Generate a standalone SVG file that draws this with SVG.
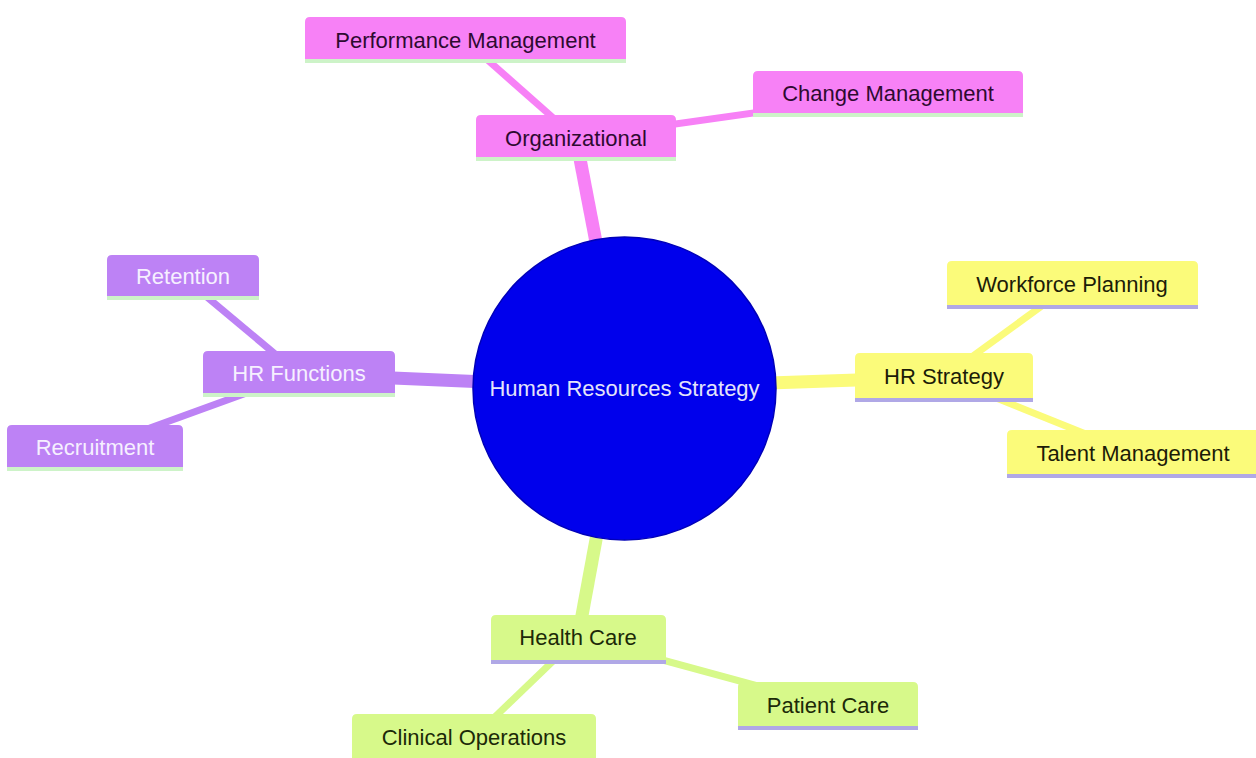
<svg xmlns="http://www.w3.org/2000/svg" width="1256" height="758" viewBox="0 0 1256 758">
<style>
text{font-family:"Liberation Sans",Arial,sans-serif;font-size:22px;text-anchor:middle;dominant-baseline:central}
.e0{stroke-linecap:butt;fill:none;stroke-width:13}
.e1{stroke-linecap:butt;fill:none;stroke-width:7}
.pk{fill:#f781f6}.pkE{stroke:#f781f6}.pkT{fill:#2e0a30}
.pu{fill:#bd82f5}.puE{stroke:#bd82f5}.puT{fill:#f6f0ff}
.ye{fill:#fbfb7a}.yeE{stroke:#fbfb7a}.yeT{fill:#1c1c08}
.gr{fill:#d7f98a}.grE{stroke:#d7f98a}.grT{fill:#1c2a08}
.lg{stroke:#cdf3c8;stroke-width:4}
.lv{stroke:#b0a8e6;stroke-width:4}
</style>
<rect width="1256" height="758" fill="#ffffff"/>
<g id="connectors">
<line class="e0 pkE" x1="624" y1="388" x2="576" y2="138"/>
<line class="e0 puE" x1="624" y1="388" x2="299" y2="374"/>
<line class="e0 yeE" x1="624" y1="388" x2="944" y2="377"/>
<line class="e0 grE" x1="624" y1="388" x2="578" y2="637"/>
<line class="e1 pkE" x1="576" y1="138" x2="465" y2="40"/>
<line class="e1 pkE" x1="576" y1="138" x2="888" y2="94"/>
<line class="e1 puE" x1="299" y1="374" x2="183" y2="277"/>
<line class="e1 puE" x1="299" y1="374" x2="95" y2="448"/>
<line class="e1 yeE" x1="944" y1="377" x2="1072" y2="284"/>
<line class="e1 yeE" x1="944" y1="377" x2="1133" y2="453"/>
<line class="e1 grE" x1="578" y1="637" x2="474" y2="737"/>
<line class="e1 grE" x1="578" y1="637" x2="828" y2="705"/>
</g>
<g id="root">
<circle cx="624.5" cy="388.5" r="151.5" fill="#0000ec" stroke="#0000b8" stroke-width="1.5"/>
<text x="624.5" y="388" fill="#e4e4fa">Human Resources Strategy</text>
</g>
<g id="organizational">
<path class="pk" d="M476 159V120Q476 115 481 115H671Q676 115 676 120V159Z"/>
<line class="lg" x1="476" y1="159" x2="676" y2="159"/>
<text class="pkT" x="576" y="138">Organizational</text>
</g>
<g id="performance-management">
<path class="pk" d="M305 61V22Q305 17 310 17H621Q626 17 626 22V61Z"/>
<line class="lg" x1="305" y1="61" x2="626" y2="61"/>
<text class="pkT" x="465.5" y="40">Performance Management</text>
</g>
<g id="change-management">
<path class="pk" d="M753 115V76Q753 71 758 71H1018Q1023 71 1023 76V115Z"/>
<line class="lg" x1="753" y1="115" x2="1023" y2="115"/>
<text class="pkT" x="888" y="93">Change Management</text>
</g>
<g id="hr-functions">
<path class="pu" d="M203 395V356Q203 351 208 351H390Q395 351 395 356V395Z"/>
<line class="lg" x1="203" y1="395" x2="395" y2="395"/>
<text class="puT" x="299" y="373">HR Functions</text>
</g>
<g id="retention">
<path class="pu" d="M107 298V260Q107 255 112 255H254Q259 255 259 260V298Z"/>
<line class="lg" x1="107" y1="298" x2="259" y2="298"/>
<text class="puT" x="183" y="276">Retention</text>
</g>
<g id="recruitment">
<path class="pu" d="M7 469V430Q7 425 12 425H178Q183 425 183 430V469Z"/>
<line class="lg" x1="7" y1="469" x2="183" y2="469"/>
<text class="puT" x="95" y="447">Recruitment</text>
</g>
<g id="hr-strategy">
<path class="ye" d="M855 400V358Q855 353 860 353H1028Q1033 353 1033 358V400Z"/>
<line class="lv" x1="855" y1="400" x2="1033" y2="400"/>
<text class="yeT" x="944" y="376">HR Strategy</text>
</g>
<g id="workforce-planning">
<path class="ye" d="M947 307V266Q947 261 952 261H1193Q1198 261 1198 266V307Z"/>
<line class="lv" x1="947" y1="307" x2="1198" y2="307"/>
<text class="yeT" x="1072" y="284">Workforce Planning</text>
</g>
<g id="talent-management">
<path class="ye" d="M1007 476V435Q1007 430 1012 430H1255Q1260 430 1260 435V476Z"/>
<line class="lv" x1="1007" y1="476" x2="1260" y2="476"/>
<text class="yeT" x="1133" y="453">Talent Management</text>
</g>
<g id="health-care">
<path class="gr" d="M491 662V620Q491 615 496 615H661Q666 615 666 620V662Z"/>
<line class="lv" x1="491" y1="662" x2="666" y2="662"/>
<text class="grT" x="578" y="637">Health Care</text>
</g>
<g id="patient-care">
<path class="gr" d="M738 728V687Q738 682 743 682H913Q918 682 918 687V728Z"/>
<line class="lv" x1="738" y1="728" x2="918" y2="728"/>
<text class="grT" x="828" y="705">Patient Care</text>
</g>
<g id="clinical-operations">
<path class="gr" d="M352 760V719Q352 714 357 714H591Q596 714 596 719V760Z"/>
<text class="grT" x="474" y="737">Clinical Operations</text>
</g>
</svg>
